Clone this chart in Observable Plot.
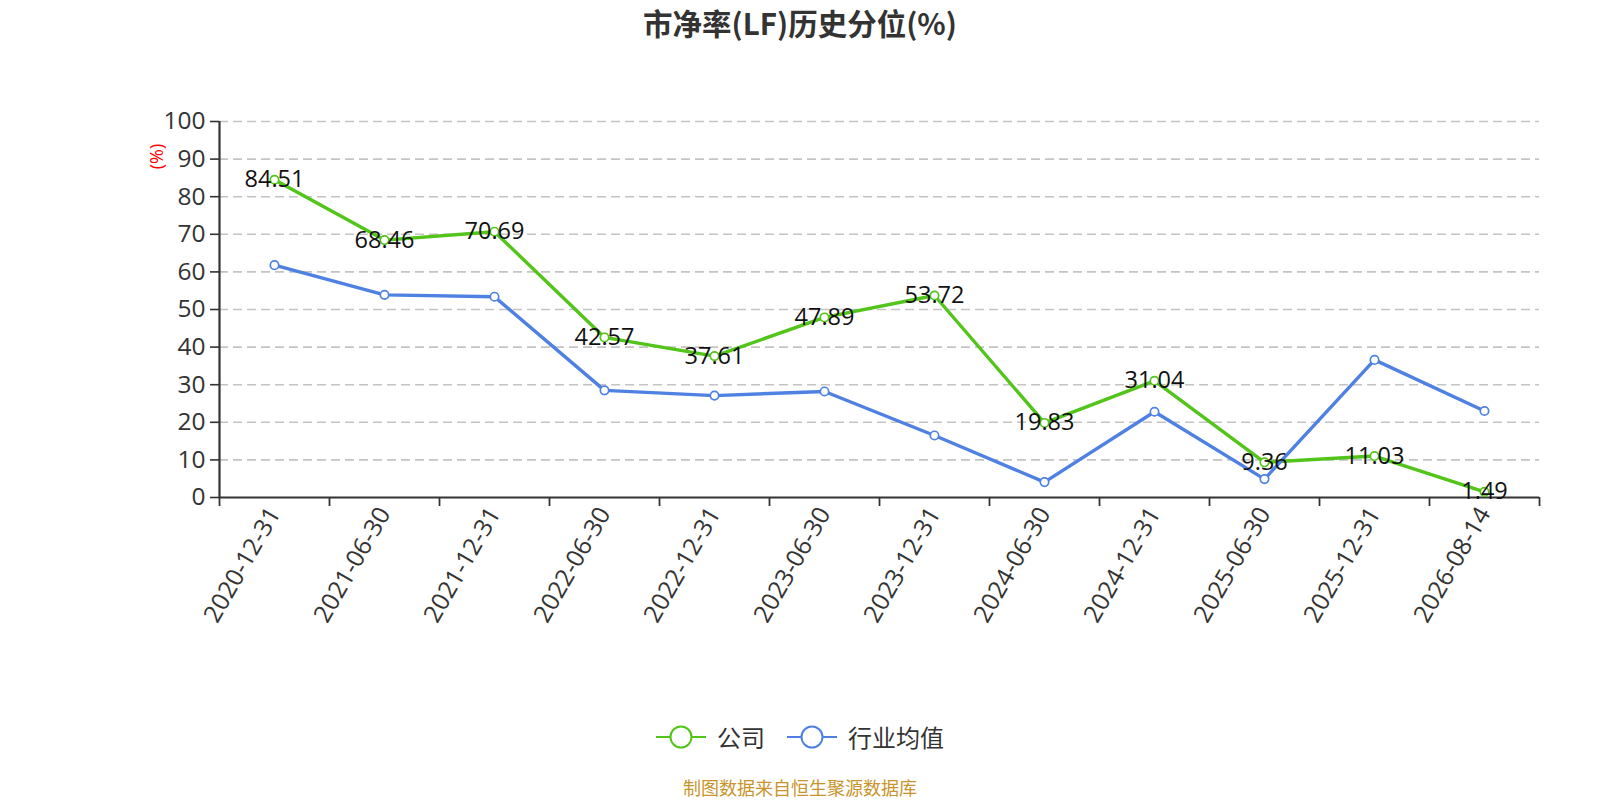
<!DOCTYPE html>
<html>
<head>
<meta charset="utf-8">
<script src="https://cdn.jsdelivr.net/npm/d3@7"></script>
<script src="https://cdn.jsdelivr.net/npm/@observablehq/plot@0.6"></script>
<style>
  html, body { margin: 0; padding: 0; background: #fff; overflow: hidden; font-family: "Open Sans", "Noto Sans CJK SC", sans-serif; }
  #wrap { width: 1600px; height: 800px; position: relative; overflow: hidden; }
  #title { width: 1600px; height: 60px; line-height: 44px; text-align: center; font-size: 29.5px; font-weight: bold; color: #333; font-family: "Noto Sans CJK SC", sans-serif; }
  #chart svg { max-width: none !important; display: block; }
  #legend { width: 1600px; height: 74px; display: flex; justify-content: center; align-items: center; gap: 22px; font-size: 24px; color: #333; font-family: "Noto Sans CJK SC", sans-serif; }
  .item { display: flex; align-items: center; gap: 11px; }
  .item span { line-height: 30px; }
  #source { width: 1600px; height: 26px; line-height: 26px; text-align: center; font-size: 18px; color: #c8942c; font-family: "Noto Sans CJK SC", sans-serif; }
</style>
</head>
<body>
<div id="wrap">
  <div id="title">市净率(LF)历史分位(%)</div>
  <div id="chart"></div>
  <div id="legend"></div>
  <div id="source">制图数据来自恒生聚源数据库</div>
</div>
<script>
const dates = ["2020-12-31","2021-06-30","2021-12-31","2022-06-30","2022-12-31","2023-06-30","2023-12-31","2024-06-30","2024-12-31","2025-06-30","2025-12-31","2026-08-14"];
const company = [84.51, 68.46, 70.69, 42.57, 37.61, 47.89, 53.72, 19.83, 31.04, 9.36, 11.03, 1.49];
const industry = [61.8, 53.9, 53.4, 28.5, 27.1, 28.2, 16.5, 4.1, 22.8, 4.9, 36.6, 23.0];
const seriesNames = ["公司", "行业均值"];
const colors = ["#52c41a", "#4f81e3"];
const yTicks = d3.range(0, 101, 10);

const data = dates.map((d, i) => ({i, date: d, company: company[i], industry: industry[i]}));
const boundaries = d3.range(-0.5, dates.length, 1);
const FONT = "'Open Sans', 'Noto Sans CJK SC', sans-serif";

const chart = Plot.plot({
  width: 1600,
  height: 640,
  marginTop: 61,
  marginBottom: 203,
  marginLeft: 219,
  marginRight: 61,
  style: {fontFamily: FONT, color: "#333", background: "white"},
  x: {domain: [-0.5, dates.length - 0.5]},
  y: {domain: [0, 100]},
  marks: [
    Plot.gridY(yTicks.filter(t => t > 0), {stroke: "#c4c4c4", strokeOpacity: 1, strokeDasharray: "9,5", strokeWidth: 1.6}),
    Plot.axisY({ticks: yTicks, tickSize: 9, tickPadding: 5, fontSize: 24.5, label: null, stroke: "#333", strokeWidth: 1.6, fill: "#333"}),
    Plot.axisX({ticks: boundaries, tickSize: 9, tickFormat: () => "", label: null, stroke: "#333", strokeWidth: 1.8}),
    Plot.axisX({ticks: d3.range(dates.length), tickSize: 0, tickPadding: 12, tickRotate: -60, tickFormat: i => dates[i], fontSize: 24.5, label: null, fill: "#333"}),
    Plot.ruleX([-0.5], {stroke: "#333", strokeWidth: 2.2}),
    Plot.ruleY([0], {stroke: "#333", strokeWidth: 2.2}),
    Plot.text(["(%)"], {frameAnchor: "top-left", dx: -69, dy: 35, rotate: -90, fill: "red", fontSize: 18, textAnchor: "middle"}),
    Plot.line(data, {x: "i", y: "company", stroke: colors[0], strokeWidth: 3.4}),
    Plot.dot(data, {x: "i", y: "company", r: 4.2, fill: "white", stroke: colors[0], strokeWidth: 1.7}),
    Plot.line(data, {x: "i", y: "industry", stroke: colors[1], strokeWidth: 3.4}),
    Plot.dot(data, {x: "i", y: "industry", r: 4.2, fill: "white", stroke: colors[1], strokeWidth: 1.7}),
    Plot.text(data, {x: "i", y: "company", text: d => d.company.toFixed(2), fontSize: 23.5, fill: "#111", textAnchor: "middle", lineAnchor: "middle"})
  ]
});
document.getElementById("chart").appendChild(chart);

const legend = document.getElementById("legend");
seriesNames.forEach((name, k) => {
  const it = document.createElement("div");
  it.className = "item";
  it.innerHTML = `<svg width="50" height="26"><line x1="0" x2="50" y1="13" y2="13" stroke="${colors[k]}" stroke-width="2"/><circle cx="25" cy="13" r="10.5" fill="white" stroke="${colors[k]}" stroke-width="2"/></svg><span>${name}</span>`;
  legend.appendChild(it);
});
</script>
</body>
</html>
